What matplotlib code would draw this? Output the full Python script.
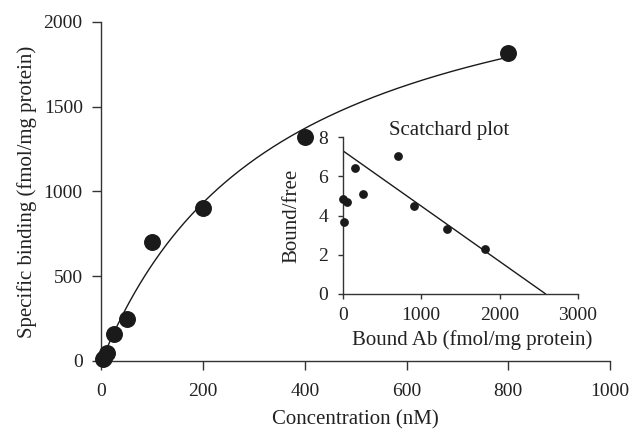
import numpy as np
import matplotlib
matplotlib.use("Agg")
import matplotlib.pyplot as plt

plt.rcParams['font.family'] = ['Liberation Serif', 'DejaVu Serif']

# Saturation binding data
conc_nM = [2.5, 5, 10, 25, 50, 100, 200, 400, 800]
binding = [12, 18, 47, 160, 250, 700, 903, 1320, 1818]

# Fitted one-site model parameters (from Scatchard line)
Bmax = 2584.0
Kd = 353.0

# Scatchard data
bound_ab = [8, 17, 55, 161, 255, 700, 904, 1324, 1820]
bound_free = [4.85, 3.65, 4.71, 6.45, 5.09, 7.03, 4.5, 3.29, 2.27]
scat_line_x = [0, 2584]
scat_line_y = [7.32, 0]

main_xticks = [0, 200, 400, 600, 800, 1000]
main_yticks = [0, 500, 1000, 1500, 2000]
inset_xticks = [0, 1000, 2000, 3000]
inset_yticks = [0, 2, 4, 6, 8]

TXT = '#222222'
LN = '#333333'
fig = plt.figure(figsize=(6.32, 4.32), dpi=100)
ax = fig.add_axes([0.1606, 0.1644, 0.8046, 0.7847])

xc = np.linspace(0, 800, 300)
ax.plot(xc, Bmax * xc / (Kd + xc), color='#1a1a1a', lw=1.0, zorder=2)
ax.scatter(conc_nM, binding, s=125, color='#1a1a1a', zorder=3, clip_on=False)

ax.set_xlim(0, 1000)
ax.set_ylim(0, 2000)
ax.set_xticks(main_xticks)
ax.set_yticks(main_yticks)
for s in ['top', 'right']:
    ax.spines[s].set_visible(False)
for s in ['left', 'bottom']:
    ax.spines[s].set_color(LN)
    ax.spines[s].set_linewidth(1.0)
ax.tick_params(direction='out', length=6.5, width=1.0, colors=LN,
               labelsize=14, labelcolor=TXT)
ax.tick_params(axis='x', pad=9)
ax.tick_params(axis='y', pad=7)
ax.set_xlabel('Concentration (nM)', fontsize=15, color=TXT, labelpad=8)
ax.set_ylabel('Specific binding (fmol/mg protein)', fontsize=15, color=TXT, labelpad=5)

ins = fig.add_axes([0.5422, 0.3201, 0.3723, 0.362])
ins.patch.set_alpha(0)
ins.plot(scat_line_x, scat_line_y, color='#1a1a1a', lw=1.0)
ins.scatter(bound_ab, bound_free, s=28, color='#1a1a1a', zorder=3, clip_on=False)
ins.set_xlim(0, 3000)
ins.set_ylim(0, 8)
ins.set_xticks(inset_xticks)
ins.set_yticks(inset_yticks)
for s in ['top', 'right']:
    ins.spines[s].set_visible(False)
for s in ['left', 'bottom']:
    ins.spines[s].set_color(LN)
    ins.spines[s].set_linewidth(1.0)
ins.tick_params(direction='out', length=3.5, width=1.0, colors=LN,
                labelsize=14, labelcolor=TXT)
ins.tick_params(axis='x', pad=6)
ins.tick_params(axis='y', pad=7)
ins.set_xlabel('Bound Ab (fmol/mg protein)', fontsize=15, color=TXT)
ins.xaxis.set_label_coords(0.55, -0.235)
ins.set_ylabel('Bound/free', fontsize=15, color=TXT, labelpad=12)
fig.text(449 / 632, 1 - 130 / 432, 'Scatchard plot', ha='center', va='center',
         fontsize=15, color=TXT)

fig.savefig('out.png', dpi=100)
